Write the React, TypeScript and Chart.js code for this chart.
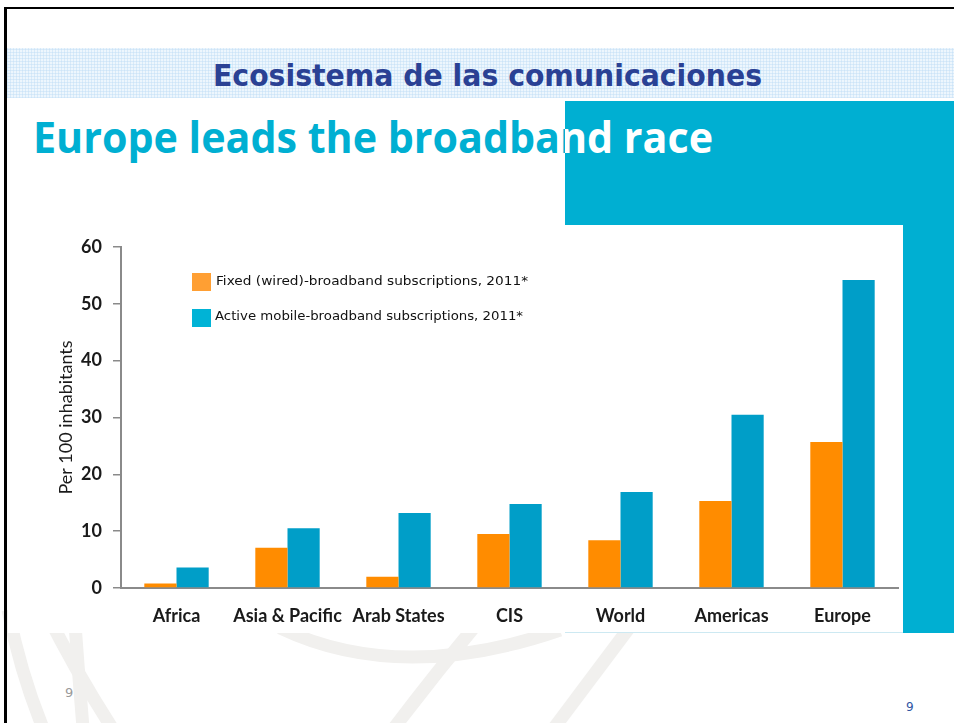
import React, { useEffect, useRef } from "react";
import { Chart, registerables } from "chart.js";

Chart.register(...registerables);

const categories = ["Africa", "Asia & Pacific", "Arab States", "CIS", "World", "Americas", "Europe"];
const fixedBroadband = [0.8, 7.1, 2.0, 9.5, 8.4, 15.3, 25.7];
const mobileBroadband = [3.6, 10.5, 13.2, 14.8, 16.9, 30.5, 54.2];
const seriesLabels = [
  "Fixed (wired)-broadband subscriptions, 2011*",
  "Active mobile-broadband subscriptions, 2011*",
];
const yMin = 0;
const yMax = 60;
const yStep = 10;
const yAxisTitle = "Per 100 inhabitants";
const headerText = "Ecosistema de las comunicaciones";
const titleText = "Europe leads the broadband race";
const pageNumber = "9";

const ORANGE = "#ff8c00";
const BLUE = "#009ec8";
const TEAL = "#00afd2";

let measureCtx: CanvasRenderingContext2D | null = null;
function measure(text: string, font: string): number {
  if (!measureCtx) measureCtx = document.createElement("canvas").getContext("2d");
  measureCtx!.font = font;
  return measureCtx!.measureText(text).width;
}

function FitText(props: {
  text: string;
  left: number;
  top: number;
  width: number;
  size: number;
  family: string;
  weight: number | string;
  color: string;
}) {
  const { text, left, top, width, size, family, weight, color } = props;
  const natural = measure(text, `${weight} ${size}px ${family}`);
  const k = natural > 0 ? width / natural : 1;
  return (
    <div
      style={{
        position: "absolute",
        left,
        top,
        fontFamily: family,
        fontWeight: weight as any,
        fontSize: size,
        lineHeight: 1,
        color,
        whiteSpace: "nowrap",
        transform: `scaleX(${k})`,
        transformOrigin: "0 0",
      }}
    >
      {text}
    </div>
  );
}

function BarChart() {
  const ref = useRef<HTMLCanvasElement | null>(null);
  useEffect(() => {
    if (!ref.current) return;
    const tickFont = { family: "Lato", size: 18, weight: "bold" as any };
    const chart = new Chart(ref.current, {
      type: "bar",
      data: {
        labels: categories,
        datasets: [
          { label: seriesLabels[0], data: fixedBroadband, backgroundColor: ORANGE, borderWidth: 0 },
          { label: seriesLabels[1], data: mobileBroadband, backgroundColor: BLUE, borderWidth: 0 },
        ],
      },
      options: {
        animation: false,
        responsive: false,
        maintainAspectRatio: false,
        devicePixelRatio: 1,
        layout: { padding: { top: 22, right: 5, left: 15, bottom: 0 } },
        plugins: { legend: { display: false }, tooltip: { enabled: false } },
        datasets: { bar: { categoryPercentage: 0.58, barPercentage: 1 } },
        scales: {
          x: {
            grid: { display: false },
            border: { display: true, color: "#8a8a8a", width: 2 },
            ticks: { color: "#1a1a1a", font: tickFont, padding: 9, maxRotation: 0, autoSkip: false },
            afterFit: (s: any) => {
              s.height = 45;
            },
          },
          y: {
            min: yMin,
            max: yMax,
            ticks: { stepSize: yStep, color: "#1a1a1a", font: tickFont, padding: 11 },
            grid: { drawOnChartArea: false, drawTicks: true, tickLength: 8, color: "#8a8a8a", lineWidth: 1.5 },
            border: { display: true, color: "#8a8a8a", width: 2 },
            title: {
              display: true,
              text: yAxisTitle,
              color: "#1a1a1a",
              font: { family: "Lato", size: 18, weight: "normal" as any },
              padding: 0,
            },
            afterFit: (s: any) => {
              s.width = 66;
            },
          },
        },
      },
    });
    return () => chart.destroy();
  }, []);
  return (
    <canvas
      ref={ref}
      width={863}
      height={408}
      style={{ position: "absolute", left: 40, top: 225, width: 863, height: 408 }}
    />
  );
}

export default function App() {
  return (
    <div
      style={{
        position: "absolute",
        left: 0,
        top: 0,
        width: 954,
        height: 723,
        overflow: "hidden",
        background: "#fff",
        fontFamily: "DejaVu Sans",
      }}
    >
      {/* watermark arcs */}
      <svg width={954} height={723} style={{ position: "absolute", left: 0, top: 0 }}>
        <g fill="none" stroke="#f1f0ee" strokeWidth={13} strokeLinecap="butt">
          <path d="M 8 610 Q 22 680 48 740" />
          <path d="M 74 610 Q 79 680 84 740" />
          <path d="M 45 610 Q 80 680 120 740" />
          <path d="M 280 628 Q 400 685 560 630" />
          <path d="M 480 620 Q 430 680 385 740" />
          <path d="M 635 620 Q 590 680 545 740" />
        </g>
      </svg>

      {/* frame */}
      <div style={{ position: "absolute", left: 4, top: 7, width: 950, height: 2, background: "#000" }} />
      <div style={{ position: "absolute", left: 4, top: 7, width: 3, height: 716, background: "#000" }} />

      {/* header band */}
      <div
        style={{
          position: "absolute",
          left: 7,
          top: 48,
          width: 947,
          height: 50,
          backgroundColor: "#edf6fd",
          backgroundImage:
            "repeating-linear-gradient(0deg, rgba(190,220,245,0.45) 0 1px, transparent 1px 3px), repeating-linear-gradient(90deg, rgba(190,220,245,0.45) 0 1px, transparent 1px 3px)",
        }}
      />
      <FitText
        text={headerText}
        left={213}
        top={61}
        width={549}
        size={30}
        family="DejaVu Sans"
        weight={700}
        color="#2a4194"
      />

      {/* teal block */}
      <div style={{ position: "absolute", left: 565, top: 101, width: 389, height: 532, background: TEAL }} />

      {/* main title (teal part) */}
      <FitText
        text={titleText}
        left={33}
        top={115}
        width={680}
        size={43}
        family="Open Sans"
        weight={700}
        color={TEAL}
      />
      {/* main title (white part over teal block) */}
      <div style={{ position: "absolute", left: 565, top: 101, width: 389, height: 124, overflow: "hidden" }}>
        <FitText
          text={titleText}
          left={33 - 565}
          top={115 - 101}
          width={680}
          size={43}
          family="Open Sans"
          weight={700}
          color="#fff"
        />
      </div>

      {/* chart white area */}
      <div style={{ position: "absolute", left: 8, top: 225, width: 895, height: 408, background: "#fff" }} />
      <div style={{ position: "absolute", left: 565, top: 632, width: 338, height: 1, background: "#cde9f2" }} />

      <BarChart />

      {/* legend */}
      <div style={{ position: "absolute", left: 192, top: 273, width: 19, height: 18, background: "#ff9f33" }} />
      <FitText
        text={seriesLabels[0]}
        left={216}
        top={274}
        width={312}
        size={13}
        family="DejaVu Sans"
        weight={400}
        color="#111"
      />
      <div style={{ position: "absolute", left: 192, top: 309, width: 19, height: 18, background: "#00b3d6" }} />
      <FitText
        text={seriesLabels[1]}
        left={215}
        top={308.5}
        width={308}
        size={13}
        family="DejaVu Sans"
        weight={400}
        color="#111"
      />

      {/* page numbers */}
      <div
        style={{
          position: "absolute",
          left: 65,
          top: 686,
          fontFamily: "DejaVu Sans",
          fontSize: 13,
          lineHeight: 1,
          color: "#9a9a9a",
        }}
      >
        {pageNumber}
      </div>
      <div
        style={{
          position: "absolute",
          left: 906,
          top: 701,
          fontFamily: "DejaVu Sans",
          fontSize: 12,
          lineHeight: 1,
          color: "#2f56a3",
        }}
      >
        {pageNumber}
      </div>
    </div>
  );
}
